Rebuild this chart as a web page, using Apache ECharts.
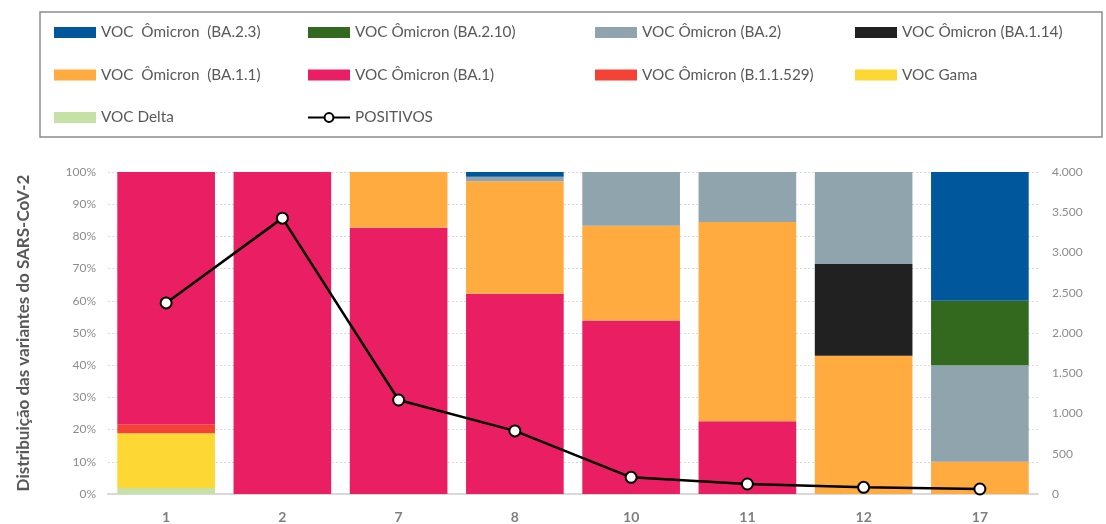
<!DOCTYPE html>
<html>
<head>
<meta charset="utf-8">
<script src="https://cdn.jsdelivr.net/npm/echarts@6/dist/echarts.min.js"></script>
<style>
html,body{margin:0;padding:0;background:#fff;}
#chart{width:1106px;height:524px;}
</style>
</head>
<body>
<div id="chart"></div>
<script>
const categories = ['1','2','7','8','10','11','12','17'];
const delta     = [1.9, 0, 0, 0, 0, 0, 0, 0];
const gama      = [17.0, 0, 0, 0, 0, 0, 0, 0];
const b11529    = [2.8, 0, 0, 0, 0, 0, 0, 0];
const ba1       = [78.3, 100, 82.7, 62.2, 53.9, 22.6, 0, 0];
const ba11      = [0, 0, 17.3, 34.9, 29.4, 61.9, 42.9, 10];
const ba114     = [0, 0, 0, 0, 0, 0, 28.5, 0];
const ba2       = [0, 0, 0, 1.4, 16.7, 15.5, 28.6, 30];
const ba210     = [0, 0, 0, 0, 0, 0, 0, 20];
const ba23      = [0, 0, 0, 1.5, 0, 0, 0, 40];
const positivos = [2374, 3427, 1168, 784, 207, 124, 83, 62];
const leftTicks = ['0%','10%','20%','30%','40%','50%','60%','70%','80%','90%','100%'];

const names = {
  ba23: 'VOC  Ômicron  (BA.2.3)',
  ba210: 'VOC Ômicron (BA.2.10)',
  ba2: 'VOC Ômicron (BA.2)',
  ba114: 'VOC Ômicron (BA.1.14)',
  ba11: 'VOC  Ômicron  (BA.1.1)',
  ba1: 'VOC Ômicron (BA.1)',
  b11529: 'VOC Ômicron (B.1.1.529)',
  gama: 'VOC Gama',
  delta: 'VOC Delta',
  pos: 'POSITIVOS'
};
const colors = {
  ba23:'#01579b', ba210:'#33691e', ba2:'#90a4ae', ba114:'#212121',
  ba11:'#ffab40', ba1:'#e91e63', b11529:'#f44336', gama:'#fdd835', delta:'#c5e1a5'
};
const FONT = 'Lato, "Noto Sans", sans-serif';

function bar(key, data){
  return {
    name: names[key], type: 'bar', stack: 'v', data: data,
    barCategoryGap: '16%',
    itemStyle: {color: colors[key]},
    emphasis: {disabled: true}
  };
}

const legendText = {color:'#595959', fontSize:15.3, fontFamily:FONT, lineHeight:18};
function legend(x, items){
  return {
    orient:'vertical', left:x, top:23.5, padding:0, itemWidth:42, itemHeight:11, itemGap:24.5,
    textStyle: legendText, selectedMode:false,
    data: items.map(function(n){ return n === names.pos ? {name:n} : {name:n, icon:'rect'}; })
  };
}

const chart = echarts.init(document.getElementById('chart'));
chart.setOption({
  animation:false,
  graphic:[{
    type:'rect', shape:{x:40,y:12,width:1062,height:125},
    style:{fill:'none', stroke:'#8c8c8c', lineWidth:1.5}, silent:true
  }],
  legend:[
    legend(54, [names.ba23, names.ba11, names.delta]),
    legend(307, [names.ba210, names.ba1, names.pos]),
    legend(595, [names.ba2, names.b11529]),
    legend(855, [names.ba114, names.gama])
  ],
  grid:{left:108, right:68, top:172, bottom:29},
  xAxis:{
    type:'category', data:categories,
    axisLine:{lineStyle:{color:'#d9d9d9', width:2}},
    axisTick:{show:false},
    axisLabel:{color:'#7f7f7f', fontWeight:'bold', fontSize:14, fontFamily:FONT, margin:16}
  },
  yAxis:[{
    type:'value', min:0, max:100, interval:10,
    name:'Distribuição das variantes do SARS-CoV-2',
    nameLocation:'middle', nameGap:76, nameRotate:90,
    nameTextStyle:{color:'#595959', fontWeight:'bold', fontSize:17, fontFamily:FONT},
    axisLabel:{color:'#8c8c8c', fontSize:12, fontFamily:FONT, margin:12,
      formatter:function(v){return leftTicks[Math.round(v/10)];}},
    splitLine:{lineStyle:{color:'#d9d9d9', type:[2,2], width:1}},
    axisLine:{show:false}, axisTick:{show:false}
  },{
    type:'value', min:0, max:4000, interval:500,
    axisLabel:{color:'#8c8c8c', fontSize:12, fontFamily:FONT, margin:14,
      formatter:function(v){return v.toLocaleString('de-DE');}},
    splitLine:{show:false}, axisLine:{show:false}, axisTick:{show:false}
  }],
  series:[
    bar('delta', delta),
    bar('gama', gama),
    bar('b11529', b11529),
    bar('ba1', ba1),
    bar('ba11', ba11),
    bar('ba114', ba114),
    bar('ba2', ba2),
    bar('ba210', ba210),
    bar('ba23', ba23),
    {
      name:names.pos, type:'line', yAxisIndex:1, data:positivos,
      symbol:'circle', symbolSize:11,
      lineStyle:{color:'#000', width:2.5},
      itemStyle:{color:'#fff', borderColor:'#000', borderWidth:2},
      z:10, emphasis:{disabled:true}
    }
  ]
});
</script>
</body>
</html>
